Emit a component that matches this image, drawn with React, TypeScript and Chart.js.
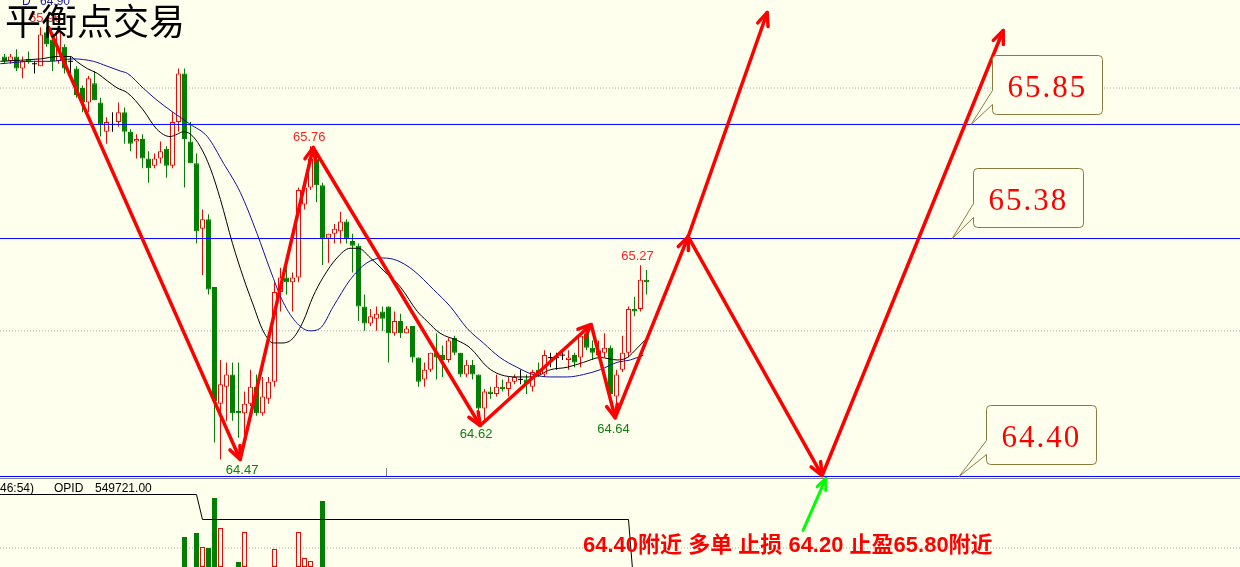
import React, { useEffect, useRef } from "react";
import { Chart, registerables } from "chart.js";

Chart.register(...registerables);

// ---------------- data ----------------
const candleOpen = [
  66.13, 66.11, 66.13, 66.08, 66.12, 66.10, 66.09, 66.23, 66.20, 66.11,
  66.17, 66.11, 66.08, 66.00, 65.94, 66.02, 65.94, 65.82, 65.85, 65.86,
  65.90, 65.82, 65.78, 65.79, 65.71, 65.68, 65.71, 65.75, 65.68, 65.86,
  66.06, 65.78, 65.69, 65.42, 65.46, 65.18, 64.70, 64.77, 64.82, 64.67,
  64.66, 64.70, 64.77, 64.66, 64.72, 64.79, 65.16, 65.22, 65.20, 65.22,
  65.52, 65.59, 65.71, 65.60, 65.38, 65.40, 65.41, 65.45, 65.37, 65.35,
  65.10, 65.03, 65.05, 65.08, 65.10, 64.99, 65.04, 64.99, 65.02, 64.89,
  64.80, 64.84, 64.91, 64.90, 64.88, 64.97, 64.91, 64.82, 64.86, 64.82,
  64.68, 64.75, 64.74, 64.77, 64.76, 64.79, 64.80, 64.80, 64.77, 64.84,
  64.82, 64.89, 64.89, 64.90, 64.88, 64.90, 64.89, 64.99, 64.93, 64.90,
  64.91, 64.93, 64.73, 64.84, 64.91, 65.09, 65.09, 65.21,
];
const candleHigh = [
  66.14, 66.14, 66.16, 66.13, 66.15, 66.11, 66.25, 66.25, 66.22, 66.25,
  66.18, 66.13, 66.09, 66.01, 66.05, 66.07, 65.96, 65.88, 65.90, 65.94,
  65.92, 65.83, 65.81, 65.81, 65.74, 65.73, 65.78, 65.76, 65.90, 66.08,
  66.08, 65.86, 65.73, 65.50, 65.48, 65.18, 64.88, 64.87, 64.87, 64.87,
  64.75, 64.84, 64.82, 64.81, 64.81, 65.20, 65.26, 65.26, 65.24, 65.59,
  65.62, 65.76, 65.73, 65.61, 65.40, 65.44, 65.49, 65.46, 65.40, 65.36,
  65.15, 65.09, 65.10, 65.10, 65.10, 65.08, 65.07, 65.02, 65.02, 64.89,
  64.87, 64.91, 64.99, 64.94, 64.97, 64.98, 64.91, 64.88, 64.88, 64.82,
  64.76, 64.77, 64.82, 64.80, 64.81, 64.82, 64.84, 64.82, 64.84, 64.87,
  64.92, 64.91, 64.91, 64.92, 64.92, 64.91, 64.99, 65.01, 64.96, 64.96,
  64.99, 64.94, 64.84, 64.98, 65.10, 65.14, 65.27, 65.25,
];
const candleLow = [
  66.10, 66.10, 66.07, 66.04, 66.10, 66.06, 66.09, 66.17, 66.07, 66.10,
  66.06, 66.05, 65.96, 65.90, 65.90, 65.95, 65.80, 65.77, 65.82, 65.84,
  65.77, 65.74, 65.71, 65.67, 65.61, 65.67, 65.69, 65.63, 65.67, 65.82,
  65.59, 65.69, 65.36, 65.23, 65.15, 64.54, 64.47, 64.63, 64.63, 64.56,
  64.57, 64.69, 64.65, 64.65, 64.70, 64.77, 65.08, 65.15, 65.08, 65.20,
  65.50, 65.58, 65.53, 65.27, 65.28, 65.36, 65.36, 65.36, 65.24, 65.04,
  65.00, 65.02, 65.00, 65.00, 64.87, 64.98, 64.97, 64.99, 64.87, 64.77,
  64.77, 64.83, 64.80, 64.81, 64.87, 64.90, 64.81, 64.81, 64.80, 64.64,
  64.62, 64.72, 64.73, 64.75, 64.73, 64.78, 64.78, 64.74, 64.75, 64.81,
  64.81, 64.85, 64.84, 64.88, 64.84, 64.85, 64.85, 64.92, 64.88, 64.89,
  64.89, 64.73, 64.64, 64.83, 64.89, 65.06, 65.08, 65.15,
];
const candleClose = [
  66.11, 66.13, 66.08, 66.11, 66.11, 66.10, 66.22, 66.18, 66.11, 66.23,
  66.08, 66.11, 65.97, 65.94, 66.04, 65.95, 65.85, 65.86, 65.85, 65.90,
  65.82, 65.77, 65.79, 65.71, 65.67, 65.71, 65.74, 65.68, 65.86, 66.06,
  65.79, 65.69, 65.41, 65.46, 65.17, 64.71, 64.78, 64.82, 64.66, 64.66,
  64.70, 64.77, 64.66, 64.73, 64.79, 65.16, 65.22, 65.20, 65.22, 65.58,
  65.59, 65.71, 65.60, 65.38, 65.40, 65.42, 65.45, 65.38, 65.35, 65.10,
  65.03, 65.06, 65.07, 65.05, 64.99, 65.04, 64.99, 65.01, 64.89, 64.79,
  64.84, 64.91, 64.89, 64.88, 64.96, 64.91, 64.82, 64.86, 64.82, 64.68,
  64.75, 64.74, 64.77, 64.76, 64.79, 64.81, 64.80, 64.78, 64.83, 64.82,
  64.90, 64.89, 64.89, 64.90, 64.89, 64.87, 64.98, 64.93, 64.91, 64.92,
  64.93, 64.74, 64.82, 64.91, 65.09, 65.08, 65.21, 65.20,
];

// moving averages (bar index, price)
const maFastX = [-0.7, 6, 9, 11, 12, 13.8, 15.5, 17.1, 18.8, 20.5, 23.1, 25.4, 27.6, 28.8, 29.8, 31, 32.6, 34.3, 36, 38, 39.8, 41.4, 43.1, 44.8, 46.4, 48.1, 49.8, 51.4, 53.1, 55.4, 57.6, 59, 61, 63.1, 66, 68.8, 70.4, 72.6, 75.5, 77.6, 80.5, 82.6, 85.4, 88.1, 91, 93.8, 96.5, 99.3, 102.1, 103.8, 105.5, 107.1];
const maFastY = [66.11, 66.12, 66.13, 66.13, 66.11, 66.08, 66.06, 66.03, 66.00, 65.98, 65.91, 65.83, 65.80, 65.81, 65.82, 65.81, 65.76, 65.67, 65.54, 65.36, 65.22, 65.11, 65.00, 64.95, 64.95, 64.97, 65.04, 65.14, 65.22, 65.30, 65.34, 65.34, 65.30, 65.25, 65.18, 65.08, 65.04, 64.99, 64.96, 64.93, 64.85, 64.82, 64.81, 64.81, 64.84, 64.85, 64.87, 64.89, 64.88, 64.89, 64.93, 64.97];
const maSlowX = [-0.7, 4.8, 7.6, 11.5, 14.8, 17.1, 19.3, 20.5, 23.1, 25.4, 28.1, 31, 33.8, 36.5, 39.3, 42.1, 44.3, 46.4, 48.8, 50.9, 52.6, 54.8, 57.6, 60.4, 63.1, 65.4, 68.1, 71.5, 74.3, 77.1, 79.8, 82.6, 85.4, 88.1, 91, 93.8, 96.5, 99.3, 102.1, 104.3, 106.5];
const maSlowY = [66.10, 66.11, 66.11, 66.12, 66.11, 66.09, 66.07, 66.06, 66.00, 65.95, 65.90, 65.85, 65.80, 65.69, 65.57, 65.40, 65.25, 65.12, 65.03, 65.00, 65.01, 65.10, 65.21, 65.28, 65.30, 65.29, 65.25, 65.17, 65.10, 65.01, 64.95, 64.89, 64.85, 64.82, 64.81, 64.81, 64.82, 64.84, 64.87, 64.88, 64.90];

const levelPrices = [65.85, 65.38, 64.4];
const levelLabels = ["65.85", "65.38", "64.40"];
const calloutTipX = [161.1, 157.95, 159.1];
const gridPrices = [65.0, 66.0];

// hand-drawn arrows (bar index, price)
const zigAX = [7.37, 39.28, 51.45, 79.28, 97.78, 101.78, 113.95];
const zigAY = [66.249, 64.47, 65.755, 64.61, 65.026, 64.642, 65.388];
const zigBX = [113.95, 127.12];
const zigBY = [65.388, 66.311];
const zigCX = [113.95, 136.28, 166.45];
const zigCY = [65.388, 64.404, 66.237];
const greenArrowX = [133.1, 136.9];
const greenArrowY = [64.178, 64.392];

// high / low labels
const hlText = ["65.76", "64.47", "64.62", "64.64", "65.27"];
const hlX = [50.8, 39.6, 78.6, 101.5, 105.5];
const hlPrice = [65.76, 64.47, 64.62, 64.64, 65.27];
const hlAbove = [true, false, false, false, true];

// lower panel
const volIndex = [30, 32, 33, 34, 35, 36, 39, 40, 45, 49, 50, 51, 53];
const volValue = [3000, 3400, 2000, 1900, 6900, 3900, 500, 3500, 1800, 3500, 900, 600, 6600];
const opidX = [-1, 32, 33, 104, 105];
const opidY = [559721, 559721, 549721, 549721, 520000];
const lowerGridLevel = 1900;

const titleText = "平衡点交易";
const headerLeft = "D";
const headerValue = "64.90";
const headerRed = "65.96";
const lowerHeader = ["46:54)", "OPID", "549721.00"];
const tradeText = "64.40附近 多单 止损 64.20 止盈65.80附近";

// ---------------- styling ----------------
const BG = "#FFFFEE";
const UP = "#FF0000";
const DOWN = "#008000";
const DOJI = "#000000";
const X_MIN = -0.75;
const X_MAX = 205.9167;
const Y_MIN = 64.027265;
const Y_MAX = 66.36252;

function candleKind(i: number) {
  const d = candleClose[i] - candleOpen[i];
  if (Math.abs(d) < 0.005) return "doji";
  return d > 0 ? "up" : "down";
}
const idx = candleOpen.map((_, i) => i);
const colorOf = (i: number) => {
  const k = candleKind(i);
  return k === "up" ? UP : k === "down" ? DOWN : DOJI;
};

const arrowPlugin = {
  id: "arrowHeads",
  afterDatasetsDraw(chart: any) {
    const ctx = chart.ctx;
    chart.data.datasets.forEach((ds: any, di: number) => {
      if (!ds.arrowHead) return;
      const pts = chart.getDatasetMeta(di).data;
      ctx.save();
      ctx.strokeStyle = ds.borderColor;
      ctx.lineWidth = ds.borderWidth;
      ctx.lineCap = "round";
      ctx.lineJoin = "round";
      const L = ds.arrowHead.len;
      const w = ds.arrowHead.angle;
      for (let k = 1; k < pts.length; k++) {
        const a = pts[k - 1];
        const b = pts[k];
        const ang = Math.atan2(b.y - a.y, b.x - a.x);
        ctx.beginPath();
        ctx.moveTo(b.x - L * Math.cos(ang - w), b.y - L * Math.sin(ang - w));
        ctx.lineTo(b.x, b.y);
        ctx.lineTo(b.x - L * Math.cos(ang + w), b.y - L * Math.sin(ang + w));
        ctx.stroke();
      }
      ctx.restore();
    });
  },
};

function drawCallout(ctx: any, tipX: number, tipY: number, bx: number, by: number, w: number, h: number, text: string) {
  const r = 4;
  ctx.save();
  ctx.beginPath();
  ctx.moveTo(bx + r, by);
  ctx.lineTo(bx + w - r, by);
  ctx.arcTo(bx + w, by, bx + w, by + r, r);
  ctx.lineTo(bx + w, by + h - r);
  ctx.arcTo(bx + w, by + h, bx + w - r, by + h, r);
  ctx.lineTo(bx + r, by + h);
  ctx.arcTo(bx, by + h, bx, by + h - r, r);
  ctx.lineTo(bx, by + 49);
  ctx.lineTo(tipX, tipY);
  ctx.lineTo(bx, by + 35);
  ctx.lineTo(bx, by + r);
  ctx.arcTo(bx, by, bx + r, by, r);
  ctx.closePath();
  ctx.fillStyle = BG;
  ctx.fill();
  ctx.strokeStyle = "#8C7B3E";
  ctx.lineWidth = 1;
  ctx.stroke();
  ctx.fillStyle = "#FF0000";
  ctx.font = "31px 'Liberation Serif'";
  (ctx as any).letterSpacing = "2px";
  ctx.textAlign = "left";
  ctx.textBaseline = "alphabetic";
  ctx.fillText(text, bx + 15, by + 41);
  ctx.restore();
}

const annotationPlugin = {
  id: "annotations",
  beforeDatasetsDraw(chart: any) {
    const ctx = chart.ctx;
    const xs = chart.scales.x;
    ctx.save();
    ctx.strokeStyle = "#808080";
    ctx.lineWidth = 1;
    ctx.beginPath();
    ctx.moveTo(0, 478.5);
    ctx.lineTo(chart.width, 478.5);
    const tx = Math.round(xs.getPixelForValue(63.6)) + 0.5;
    ctx.moveTo(tx, 468);
    ctx.lineTo(tx, 476);
    ctx.stroke();
    ctx.restore();
  },
  afterDatasetsDraw(chart: any) {
    const ctx = chart.ctx;
    const xs = chart.scales.x;
    const ys = chart.scales.y;
    ctx.save();
    ctx.font = "13px 'Liberation Sans'";
    ctx.textAlign = "center";
    ctx.textBaseline = "middle";
    hlText.forEach((t, k) => {
      ctx.fillStyle = hlAbove[k] ? "#FF2020" : "#108010";
      const px = xs.getPixelForValue(hlX[k]);
      const py = ys.getPixelForValue(hlPrice[k]) + (hlAbove[k] ? -9 : 11);
      ctx.fillText(t, px, py);
    });
    // header texts
    ctx.textAlign = "left";
    ctx.textBaseline = "alphabetic";
    ctx.font = "12px 'Liberation Sans'";
    ctx.fillStyle = "#1B1BA8";
    ctx.fillText(headerLeft, 22, 5);
    ctx.fillText(headerValue, 40, 5);
    ctx.fillStyle = "#FF2020";
    ctx.font = "13px 'Liberation Sans'";
    ctx.fillText(headerRed, 29, 22);
    // lower panel header
    ctx.fillStyle = "#000000";
    ctx.font = "12px 'Liberation Sans'";
    ctx.fillText(lowerHeader[0], 0, 492);
    ctx.fillText(lowerHeader[1], 54, 492);
    ctx.fillText(lowerHeader[2], 95, 492);
    ctx.restore();
  },
  afterDraw(chart: any) {
    const ctx = chart.ctx;
    const xs = chart.scales.x;
    const ys = chart.scales.y;
    const dxs = [21, 21, 27];
    const dys = [-69, -71, -71];
    levelPrices.forEach((p, k) => {
      const tipX = xs.getPixelForValue(calloutTipX[k]);
      const tipY = ys.getPixelForValue(p);
      const bx = Math.round(tipX + dxs[k]) + 0.5;
      const by = Math.round(tipY + dys[k]) + 0.5;
      drawCallout(ctx, tipX, tipY, bx, by, 110, 59, levelLabels[k]);
    });
    ctx.save();
    ctx.fillStyle = "#FF0000";
    ctx.font = "bold 22px 'Liberation Sans', 'Noto Sans CJK SC'";
    ctx.textAlign = "left";
    ctx.textBaseline = "alphabetic";
    ctx.fillText(tradeText, 583, 552);
    ctx.fillStyle = "#000000";
    ctx.font = "36px 'Noto Sans CJK SC'";
    ctx.fillText(titleText, 5, 35);
    ctx.restore();
  },
};

function lineDs(xsArr: number[], ysArr: number[], extra: any) {
  return {
    type: "line",
    data: xsArr.map((x, k) => ({ x, y: ysArr[k] })),
    pointRadius: 0,
    fill: false,
    tension: 0,
    ...extra,
  };
}

export default function App() {
  const ref = useRef<HTMLCanvasElement>(null);
  useEffect(() => {
    const datasets: any[] = [];
    gridPrices.forEach((p) =>
      datasets.push(lineDs([X_MIN, X_MAX], [p, p], { borderColor: "#A8A8A8", borderWidth: 1, borderDash: [1, 2], order: 30 }))
    );
    datasets.push(lineDs([X_MIN, X_MAX], [lowerGridLevel, lowerGridLevel], { yAxisID: "yv", borderColor: "#A8A8A8", borderWidth: 1, borderDash: [1, 2], order: 29 }));
    datasets.push({
      type: "bar",
      yAxisID: "yv",
      data: volIndex.map((i, k) => ({ x: i, y: [0, volValue[k]] })),
      backgroundColor: volIndex.map((i) => (candleKind(i) === "up" ? BG : colorOf(i))),
      borderColor: volIndex.map((i) => colorOf(i)),
      borderWidth: 1,
      borderSkipped: false,
      barThickness: 5,
      grouped: false,
      inflateAmount: 0,
      order: 25,
    });
    datasets.push(lineDs(opidX, opidY, { yAxisID: "yo", borderColor: "#000000", borderWidth: 1, order: 24 }));
    datasets.push({
      type: "bar",
      data: idx.map((i) => ({ x: i, y: [candleLow[i], candleHigh[i]] })),
      backgroundColor: idx.map(colorOf),
      borderWidth: 0,
      barThickness: 1,
      grouped: false,
      inflateAmount: 0,
      order: 20,
    });
    datasets.push({
      type: "bar",
      data: idx.map((i) => {
        let lo = Math.min(candleOpen[i], candleClose[i]);
        let hi = Math.max(candleOpen[i], candleClose[i]);
        if (hi - lo < 0.005) {
          const m = (lo + hi) / 2;
          lo = m - 0.0021;
          hi = m + 0.0021;
        }
        return { x: i, y: [lo, hi] };
      }),
      backgroundColor: idx.map((i) => (candleKind(i) === "up" ? BG : colorOf(i))),
      borderColor: idx.map(colorOf),
      borderWidth: idx.map((i) => (candleKind(i) === "doji" ? 0 : 1)),
      borderSkipped: false,
      barThickness: 5,
      grouped: false,
      inflateAmount: 0,
      order: 19,
    });
    datasets.push(lineDs(maSlowX, maSlowY, { borderColor: "#1010A0", borderWidth: 1, cubicInterpolationMode: "monotone", order: 15 }));
    datasets.push(lineDs(maFastX, maFastY, { borderColor: "#000000", borderWidth: 1, cubicInterpolationMode: "monotone", order: 14 }));
    levelPrices.forEach((p) =>
      datasets.push(lineDs([X_MIN, X_MAX], [p, p], { borderColor: "#0000FF", borderWidth: 1, order: 10 }))
    );
    const arrowOpts = { borderColor: "#FF0000", borderWidth: 3.5, borderCapStyle: "round", borderJoinStyle: "round", arrowHead: { len: 14, angle: 0.4 }, order: 3 };
    datasets.push(lineDs(zigAX, zigAY, arrowOpts));
    datasets.push(lineDs(zigBX, zigBY, arrowOpts));
    datasets.push(lineDs(zigCX, zigCY, arrowOpts));
    datasets.push(lineDs(greenArrowX, greenArrowY, { borderColor: "#00FF00", borderWidth: 3, borderCapStyle: "round", arrowHead: { len: 12, angle: 0.4 }, order: 2 }));

    const chart = new Chart(ref.current as HTMLCanvasElement, {
      type: "line",
      data: { datasets },
      options: {
        animation: false,
        responsive: false,
        devicePixelRatio: 1,
        events: [],
        layout: { padding: 0 },
        plugins: { legend: { display: false }, tooltip: { enabled: false } },
        scales: {
          x: { type: "linear", min: X_MIN, max: X_MAX, display: false, offset: false },
          y: { type: "linear", min: Y_MIN, max: Y_MAX, display: false },
          yv: { type: "linear", min: 0, max: 56700, display: false },
          yo: { type: "linear", min: 530721, max: 757521, display: false },
        },
      } as any,
      plugins: [annotationPlugin, arrowPlugin],
    } as any);
    return () => chart.destroy();
  }, []);
  return (
    <div style={{ position: "fixed", left: 0, top: 0, width: 1240, height: 567, background: BG, overflow: "hidden" }}>
      <canvas ref={ref} width={1240} height={567} style={{ display: "block", width: 1240, height: 567 }} />
    </div>
  );
}
